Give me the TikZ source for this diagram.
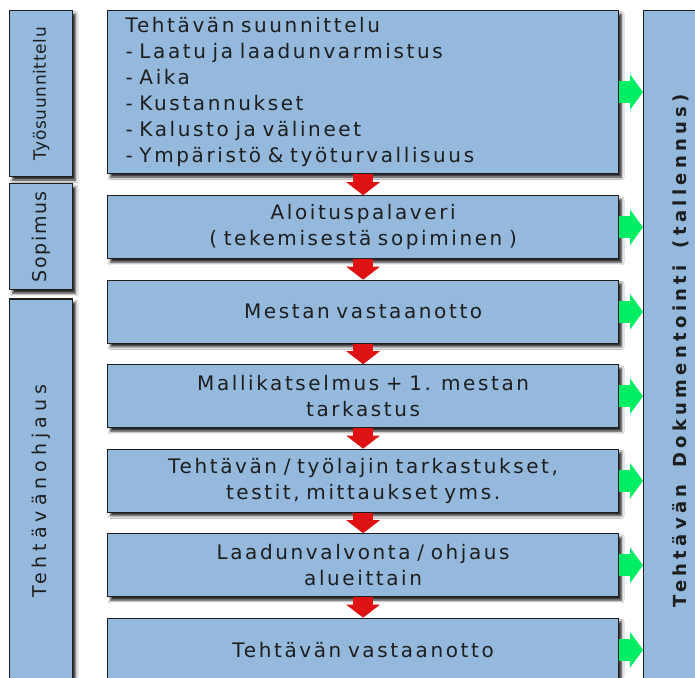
\documentclass[tikz,border=0pt]{standalone}
\usepackage{fontspec}
\usepackage{graphicx}
\setmainfont{DejaVu Sans}
\newfontfamily\stepfont[LetterSpace=13]{DejaVu Sans}
\newfontfamily\phasefont{DejaVu Sans}
\newfontfamily\docfont[LetterSpace=24, WordSpace=1.6]{DejaVu Sans}
\newcommand\steptext{\stepfont\fontsize{20}{26}\selectfont\spaceskip=10.5pt plus 2pt minus 1pt\relax}
\usetikzlibrary{arrows.meta, positioning, shadows.blur}
\definecolor{boxblue}{RGB}{148,185,220}
\definecolor{boxline}{RGB}{30,30,30}
\definecolor{textgray}{RGB}{30,30,30}
\definecolor{flowred}{RGB}{222,18,18}
\definecolor{docgreen}{RGB}{0,238,100}
\tikzstyle{stage}=[rectangle, draw=boxline, fill=boxblue, line width=1.2pt, text=textgray, inner sep=0pt,
  blur shadow={shadow xshift=3pt, shadow yshift=-3.5pt, shadow blur radius=2.5pt, shadow opacity=85}]
\tikzstyle{task}=[stage, minimum width=511pt, minimum height=63pt, text width=475pt, align=center,
  font=\steptext]
\tikzstyle{phase}=[stage, anchor=north west, minimum width=63pt]
\tikzstyle{flow}=[draw=flowred, line width=20pt, -{Triangle[width=33pt, length=13pt]}]
\tikzstyle{todoc}=[draw=docgreen, line width=22pt, -{Triangle[width=35pt, length=13pt]}]

\begin{document}
\begin{tikzpicture}[x=1pt, y=-1pt, node distance=20.3pt]
  \useasboundingbox (0,0) rectangle (695,677);
  \clip (0,0) rectangle (695,677);
  \fill[white] (0,0) rectangle (695,677);

  % phases on the left
  \node[phase, minimum height=166pt] (pplan) at (9,10)
        {\rotatebox{90}{\phasefont\fontsize{17}{20}\selectfont\addfontfeature{LetterSpace=4}Työsuunnittelu}};
  \node[phase, minimum height=106pt] (pdeal) [below=6pt of pplan]
        {\rotatebox{90}{\phasefont\fontsize{19}{22}\selectfont\addfontfeature{LetterSpace=8}Sopimus}};
  \node[phase, minimum height=385pt] (pguide) [below=8pt of pdeal]
        {\rotatebox{90}{\phasefont\fontsize{19}{22}\selectfont\addfontfeature{LetterSpace=26}Tehtävänohjaus}};

  % documentation on the right
  \node[phase, minimum width=75pt, minimum height=680pt] (doc) at (643,10)
        {\rotatebox{90}{\docfont\bfseries\fontsize{18}{20}\selectfont Tehtävän Dokumentointi (tallennus)}};

  % task steps
  \node[task, anchor=north west, minimum height=163pt, align=left] (tplan) at (107,10)
        {Tehtävän suunnittelu\\
         - Laatu ja laadunvarmistus\\
         - Aika\\
         - Kustannukset\\
         - Kalusto ja välineet\\
         - Ympäristö \& työturvallisuus};
  \node[task] (tkick) [below=21pt of tplan] {Aloituspalaveri\\( tekemisestä sopiminen )};
  \node[task] (tsite) [below=of tkick] {Mestan vastaanotto};
  \node[task] (tmodel) [below=of tsite] {Mallikatselmus + 1. mestan\\tarkastus};
  \node[task] (tcheck) [below=of tmodel] {Tehtävän / työlajin tarkastukset,\\testit, mittaukset yms.};
  \node[task] (tqual) [below=of tcheck] {Laadunvalvonta / ohjaus\\alueittain};
  \node[task] (thand) [below=of tqual] {Tehtävän vastaanotto};

  \foreach \a/\b in {tplan/tkick, tkick/tsite, tsite/tmodel, tmodel/tcheck, tcheck/tqual, tqual/thand}
    \draw[flow] (\a.south) -- (\b.north);
  \foreach \s in {tplan, tkick, tsite, tmodel, tcheck, tqual, thand}
    \draw[todoc] (\s.east) -- (\s.east -| doc.west);
\end{tikzpicture}
\end{document}
